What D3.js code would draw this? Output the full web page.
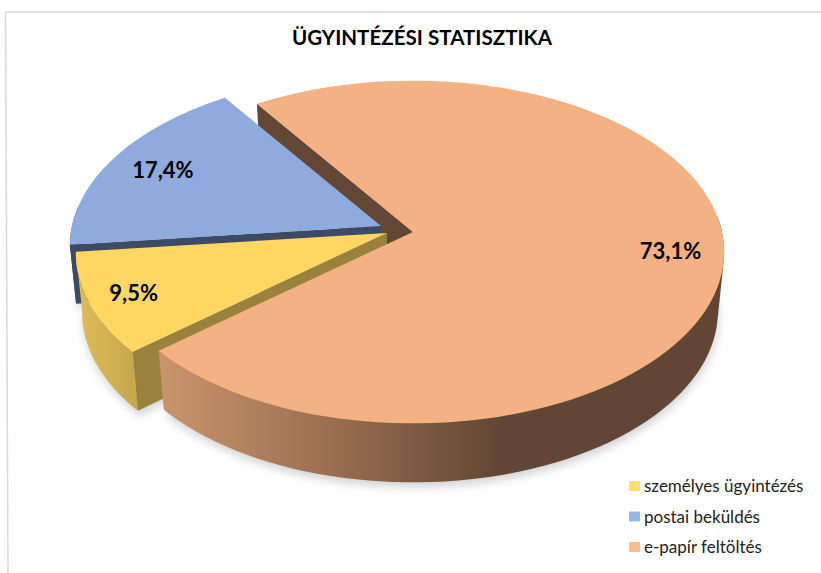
<!DOCTYPE html>
<html><head><meta charset="utf-8">
<script src="https://cdnjs.cloudflare.com/ajax/libs/d3/7.8.5/d3.min.js"></script>
<style>html,body{margin:0;padding:0;background:#fff}svg{display:block}</style>
</head><body><svg id="c" width="821" height="573"></svg>
<script>
const titleText = "ÜGYINTÉZÉSI STATISZTIKA";
const categories = ["személyes ügyintézés", "postai beküldés", "e-papír feltöltés"];
const values = [9.5, 17.4, 73.1];
const labels = ["9,5%", "17,4%", "73,1%"];
const topColors = ["#fed762", "#8faadc", "#f4b183"];
const legendColors = ["#ffdf6f", "#9ab5e8", "#ffbb8e"];
const cutColors = ["#9a823c", "#3c4a63", "#624735"];
const apexes = [[387, 233], [381, 226], [413, 232]];
const labelRadii = [0.858, 0.81, 0.83];

const RX = 309, RY = 169, K = 0.117, DEPTH = 59, SHRINK = 0.98;
const START = 229.5 * Math.PI / 180;
const font = "Lato, 'Open Sans', sans-serif";
const svg = d3.select("#c");

const pie = d3.pie().sort(null).startAngle(START).endAngle(START + 2 * Math.PI);
const arcs = pie(values);

function project(i, a, r, low) {
  const u = r * Math.sin(a), v = -r * Math.cos(a), d = 1 - K * v;
  const s = low ? SHRINK : 1;
  return [apexes[i][0] + RX * s * u / d, apexes[i][1] + RY * v / d + (low ? DEPTH : 0)];
}
const line = d3.line();
const angles = (a0, a1) => d3.range(0, 121).map(t => a0 + (a1 - a0) * t / 120);
function topPts(i) {
  const d = arcs[i];
  return [project(i, 0, 0, false)].concat(angles(d.startAngle, d.endAngle).map(a => project(i, a, 1, false)));
}
function lowPts(i) {
  const d = arcs[i];
  return [project(i, 0, 0, true)].concat(angles(d.startAngle, d.endAngle).map(a => project(i, a, 1, true)));
}
function wallPts(i) {
  const d = arcs[i];
  const as = angles(d.startAngle, d.endAngle).filter(a => Math.cos(a) < 0.12);
  return as.map(a => project(i, a, 1, false)).concat(as.slice().reverse().map(a => project(i, a, 1, true)));
}
function cutPts(i, a) {
  return [project(i, a, 1, false), project(i, 0, 0, false), project(i, 0, 0, true), project(i, a, 1, true)];
}

const defs = svg.append("defs");
defs.append("filter").attr("id", "blur").attr("x", "-10%").attr("y", "-10%").attr("width", "120%").attr("height", "120%")
  .append("feGaussianBlur").attr("stdDeviation", 4);
function grad(id, stops, x1, x2) {
  const g = defs.append("linearGradient").attr("id", id).attr("gradientUnits", "userSpaceOnUse")
    .attr("x1", x1).attr("x2", x2).attr("y1", 0).attr("y2", 0);
  stops.forEach(s => g.append("stop").attr("offset", s[0]).attr("stop-color", s[1]));
}
grad("gOrange", [[0, "#c8946c"], [0.45, "#a07252"], [1, "#614635"]], 163, 500);
grad("gYellow", [[0, "#dcbc56"], [1, "#c4a64c"]], 80, 140);

// frame
svg.append("path").attr("d", "M821,12H5.5L8,573").attr("fill", "none").attr("stroke", "#d9d9d9").attr("stroke-width", 1.5);

// title
svg.append("text").attr("x", 422).attr("y", 45).attr("text-anchor", "middle")
  .attr("font-family", font).attr("font-weight", 700).attr("font-size", 21).attr("fill", "#000")
  .attr("textLength", 260).attr("lengthAdjust", "spacingAndGlyphs").text(titleText);

// soft shadow under the pie
const sh = svg.append("g").attr("filter", "url(#blur)").attr("transform", "translate(1,5)").attr("opacity", 0.25);
[0, 1, 2].forEach(i => sh.append("path").attr("d", line(lowPts(i)) + "Z").attr("fill", "#555"));

// orange far cut face
svg.append("path").attr("d", line(cutPts(2, arcs[2].startAngle)) + "Z").attr("fill", cutColors[2]);

// blue slice
svg.append("path").attr("d", line(wallPts(1)) + "Z").attr("fill", cutColors[1]);
svg.append("path").attr("d", line(cutPts(1, arcs[1].startAngle)) + "Z").attr("fill", cutColors[1]);
svg.append("path").attr("d", line(topPts(1)) + "Z").attr("fill", topColors[1]);

// yellow slice
svg.append("path").attr("d", line(wallPts(0)) + "Z").attr("fill", "url(#gYellow)");
svg.append("path").attr("d", line(cutPts(0, arcs[0].startAngle)) + "Z").attr("fill", cutColors[0]);
svg.append("path").attr("d", line(topPts(0)) + "Z").attr("fill", topColors[0]);

// orange slice (hull gives the straight tangent on the right-hand silhouette)
svg.append("path").attr("d", line(d3.polygonHull(wallPts(2))) + "Z").attr("fill", "url(#gOrange)");
svg.append("path").attr("d", line(topPts(2)) + "Z").attr("fill", topColors[2]);

// data labels
arcs.forEach((d, i) => {
  const p = project(i, (d.startAngle + d.endAngle) / 2, labelRadii[i], false);
  svg.append("text").attr("x", p[0]).attr("y", p[1]).attr("dy", "0.35em").attr("text-anchor", "middle")
    .attr("font-family", font).attr("font-weight", 700).attr("font-size", 22).attr("fill", "#000").text(labels[i]);
});

// legend
const rowY = d3.scalePoint().domain(categories).range([486, 547]);
const lg = svg.selectAll("g.lg").data(categories).join("g").attr("class", "lg")
  .attr("transform", d => `translate(629,${rowY(d)})`);
lg.append("rect").attr("x", 0).attr("y", -5).attr("width", 11).attr("height", 10).attr("fill", (d, i) => legendColors[i]);
lg.append("text").attr("x", 15).attr("y", 0).attr("dy", "0.36em")
  .attr("font-family", font).attr("font-size", 17).attr("fill", "#222").text(d => d);
</script></body></html>
